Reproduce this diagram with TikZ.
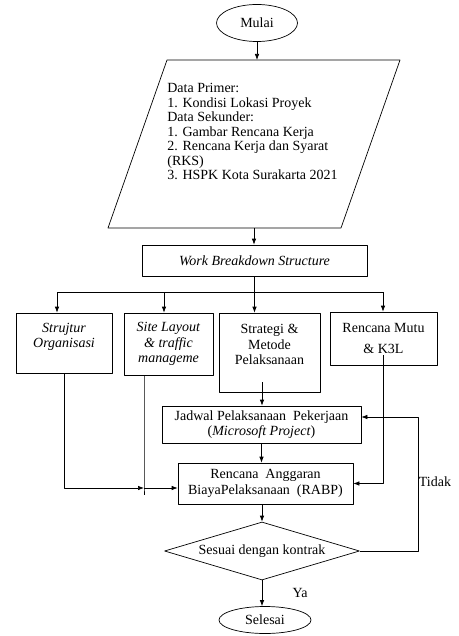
\documentclass[tikz,border=0pt]{standalone}
\usepackage{fontspec}
\setmainfont{Liberation Serif}
\usetikzlibrary{shapes.geometric,arrows.meta}
\begin{document}
\begin{tikzpicture}[x=1pt,y=-1pt,>={Latex[length=6pt,width=4.5pt]},line width=.7pt,
	font=\fontsize{14}{15.5}\selectfont, line join=round,
	kotak/.style={draw,rectangle,inner sep=1pt,align=center},
	oval/.style={draw,ellipse,inner sep=0pt}]
	\def\dx{59} % geser jajargenjang
	\useasboundingbox (0,0) rectangle (458,636);
	\node[oval,minimum width=81pt,minimum height=37pt] (mulai) at (257,23) {Mulai};
	\coordinate (dtop) at (254,60);
	\coordinate (dbot) at (254,228);
	\draw (108,228) -- (108+\dx,60) -- (400,60) -- (400-\dx,228) -- cycle;
	\node[anchor=north west,inner sep=0pt,align=left,font=\fontsize{14}{14.5}\selectfont] (data) at (167,83)
		{Data Primer:\\1. Kondisi Lokasi Proyek\\Data Sekunder:\\1. Gambar Rencana Kerja\\2. Rencana Kerja dan Syarat\\(RKS)\\3. HSPK Kota Surakarta 2021};
	\node[kotak,minimum width=225pt,minimum height=31pt] (wbs) at (254.5,260.5) {\textit{Work Breakdown Structure}};
	\node[kotak,minimum width=96pt,minimum height=60pt] (strujtur) at (64,343) {\textit{Strujtur}\\\textit{Organisasi}\\\mbox{}};
	\node[kotak,minimum width=89pt,minimum height=62pt] (site) at (168.5,344) {\textit{Site Layout}\\\textit{\& traffic}\\\textit{manageme}};
	\node[kotak,minimum width=101pt,minimum height=79pt] (strategi) at (269.5,352.5) {Strategi \&\\Metode\\Pelaksanaan\\\mbox{}};
	\node[kotak,minimum width=107pt,minimum height=53pt] (mutu) at (383.5,338.5) {Rencana Mutu\\[6pt]\& K3L};
	\node[kotak,minimum width=199pt,minimum height=37pt] (jadwal) at (261.5,424.5) {Jadwal Pelaksanaan~ Pekerjaan\\(\textit{Microsoft Project})};
	\node[kotak,minimum width=175pt,minimum height=41pt] (rabp) at (265.5,483.5) {Rencana~ Anggaran\\BiayaPelaksanaan~ (RABP)};
	\node[draw,diamond,aspect=3.4,minimum width=195pt,minimum height=58pt,inner sep=0pt] (sesuai) at (262,551) {Sesuai dengan kontrak};
	\node[oval,minimum width=92pt,minimum height=27pt] (selesai) at (265,620) {Selesai};
	\node (ya) at (300,593) {Ya};
	\node (tidak) at (435,482) {Tidak};
	% titik bantu
	\coordinate (b1) at (57,292);
	\coordinate (b2) at (164,292);
	\coordinate (b4) at (383,292);
	\coordinate (s3) at (262,382);
	\coordinate (s4) at (383,355);
	\coordinate (j1) at (144,488);
	\coordinate (t1) at (418,417);
	\draw[->] (mulai.south) -- (mulai.south |- dtop);
	\draw[->] (dbot) -- (dbot |- wbs.north);
	\draw[->] (wbs.south) -- (wbs.south |- strategi.north);
	\draw (b1) -- (b4);
	\draw[->] (b1) -- (b1 |- strujtur.north);
	\draw[->] (b2) -- (b2 |- site.north);
	\draw[->] (b4) -- (b4 |- mutu.north);
	\draw[->] (s3) -- (s3 |- jadwal.north);
	\draw[->] (s4) |- (rabp.east);
	\draw[->] (strujtur.south) |- (j1);
	\draw (site.south -| j1) -- (j1) -- ++(0,7);
	\draw[->] (j1) -- (j1 -| rabp.west);
	\draw[->] (jadwal.south) -- (jadwal.south |- rabp.north);
	\draw[->] (sesuai.north |- rabp.south) -- (sesuai.north);
	\draw[->] (sesuai.south) -- (sesuai.south |- selesai.north);
	\draw[->] (sesuai.east) -| (t1) -- (t1 -| jadwal.east);
\end{tikzpicture}
\end{document}
